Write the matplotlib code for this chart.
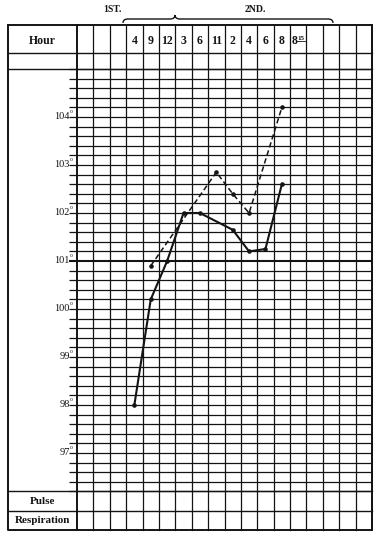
import numpy as np
import matplotlib.pyplot as plt
from matplotlib.path import Path
from matplotlib.patches import PathPatch

# --- chart data ---
hours = ["", "", "", "4", "9", "12", "3", "6", "11", "2", "4", "6", "8", "8", "", "", "", ""]
degrees = [97, 98, 99, 100, 101, 102, 103, 104]
days = ["1ST.", "2ND."]
rows = ["Hour", "Pulse", "Respiration"]

# temperature readings (column index in the hour row, degrees F)
solid_col = [3, 4, 5, 6, 7, 9, 10, 11, 12]
solid_temp = [98.0, 100.2, 101.0, 102.0, 102.0, 101.65, 101.2, 101.25, 102.6]
dash_col = [4, 8, 9, 10, 12]
dash_temp = [100.9, 102.85, 102.4, 102.0, 104.2]

serif = 'Liberation Serif'
ink = '#141414'

W, H = 379, 539
fig = plt.figure(figsize=(W / 100, H / 100), dpi=100)
frame = fig.add_axes([0, 0, 1, 1])
frame.set_xlim(0, W)
frame.set_ylim(H, 0)
frame.axis('off')

# layout in pixels
left, lab, right = 8, 77, 372
top, hdr, tgrid, tbot, pdiv, bot = 25, 53, 69, 491.4, 511, 530
ncol = len(hours)
cw = (right - lab) / ncol

# temperature axes
ax = fig.add_axes([lab / W, 1 - tbot / H, (right - lab) / W, (tbot - tgrid) / H])
ax.set_xlim(0, ncol)
ax.set_ylim(96.2, 105)
ax.axis('off')

# horizontal rules of the temperature grid (every 0.2 degree)
for t in np.linspace(96.2, 105, 45):
    lw = 1.5 if abs(t - 101) < 1e-6 else 0.9
    ax.plot([-0.5, ncol], [t, t], color=ink, lw=lw, clip_on=False, solid_capstyle='butt')

# full-width rules
for y in [hdr, tgrid, tbot, pdiv]:
    frame.plot([left, right], [y, y], color=ink, lw=1.0)
frame.plot([left, right, right, left, left], [top, top, bot, bot, top], color=ink, lw=1.4)

# column rules
for i in range(ncol + 1):
    x = lab + i * cw
    frame.plot([x, x], [top, bot], color=ink, lw=1.4 if i in (0, ncol) else 0.9)

# row labels
frame.text((left + lab) / 2, 41.5, rows[0], family=serif, weight='bold', fontsize=8.5,
           ha='center', va='center', color=ink)
frame.text((left + lab) / 2, 501.5, rows[1], family=serif, weight='bold', fontsize=8,
           ha='center', va='center', color=ink)
frame.text((left + lab) / 2, 520.5, rows[2], family=serif, weight='bold', fontsize=8,
           ha='center', va='center', color=ink)

# hour labels
for i, h in enumerate(hours):
    if not h:
        continue
    xc = lab + (i + 0.5) * cw
    if i == 13:
        frame.text(xc - 4, 41.5, h, family=serif, weight='bold', fontsize=8.5,
                   ha='center', va='center', color=ink)
        frame.text(xc + 3, 38, "15", family=serif, weight='bold', fontsize=5,
                   ha='center', va='center', color=ink)
        frame.plot([xc - 1, xc + 7], [41, 41], color=ink, lw=0.6)
    else:
        frame.text(xc, 41.5, h, family=serif, weight='bold', fontsize=8.5,
                   ha='center', va='center', color=ink)

# degree labels
for d in degrees:
    ax.text(-0.45, d, str(d), family=serif, fontsize=7.5, ha='right', va='center',
            color=ink, clip_on=False)
    ax.text(-0.45, d + 0.12, "o", family=serif, fontsize=4, ha='left', va='center',
            color=ink, clip_on=False)

# day labels and brace
frame.text(112, 9, days[0], family=serif, weight='bold', fontsize=7, ha='center', va='center', color=ink)
frame.text(255, 9, days[1], family=serif, weight='bold', fontsize=7, ha='center', va='center', color=ink)
verts = [(123, 23), (123, 19), (128, 19), (170, 19), (175, 19), (175, 15),
         (175, 19), (180, 19), (328, 19), (333, 19), (333, 23)]
codes = [Path.MOVETO, Path.CURVE3, Path.CURVE3, Path.LINETO, Path.CURVE3, Path.CURVE3,
         Path.CURVE3, Path.CURVE3, Path.LINETO, Path.CURVE3, Path.CURVE3]
frame.add_patch(PathPatch(Path(verts, codes), fill=False, color=ink, lw=1.0))

# temperature curves
sx = np.array(solid_col) + 0.5
dx = np.array(dash_col) + 0.5
ax.plot(sx, solid_temp, color=ink, lw=1.5, marker='o', ms=2.3, zorder=5)
ax.plot(dx, dash_temp, color=ink, lw=1.1, ls=(0, (3.5, 2)), marker='o', ms=2.3, zorder=5)

fig.savefig('out.png', dpi=100)
